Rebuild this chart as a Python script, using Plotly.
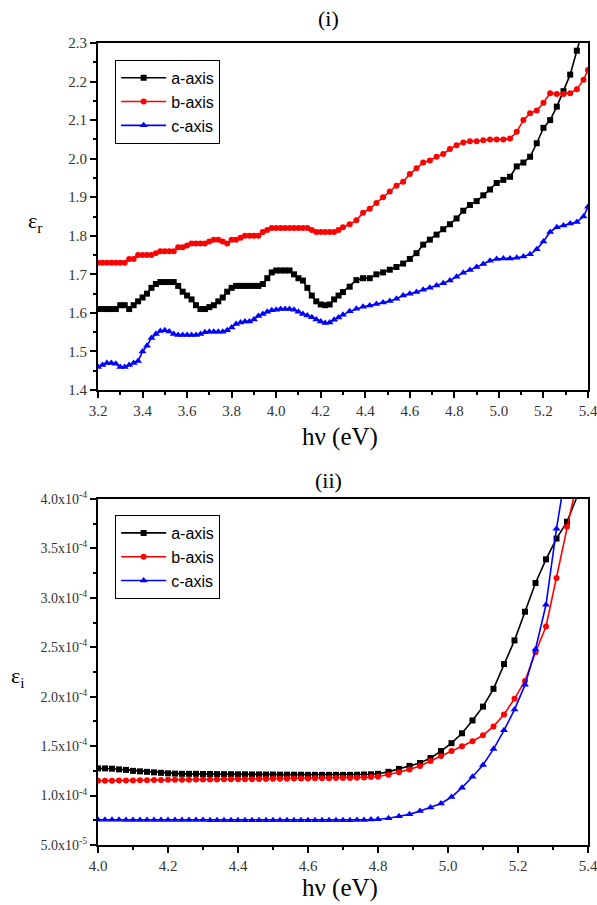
import plotly.graph_objects as go

# ---------------- Panel (i): real part ----------------
energy_top = [3.20, 3.22, 3.24, 3.26, 3.28, 3.30, 3.32, 3.34, 3.36, 3.38,
              3.40, 3.42, 3.44, 3.46, 3.48, 3.50, 3.52, 3.54, 3.56, 3.58,
              3.60, 3.62, 3.64, 3.66, 3.68, 3.70, 3.72, 3.74, 3.76, 3.78,
              3.80, 3.82, 3.84, 3.86, 3.88, 3.90, 3.92, 3.94, 3.96, 3.98,
              4.00, 4.02, 4.04, 4.06, 4.08, 4.10, 4.12, 4.14, 4.16, 4.18,
              4.20, 4.22, 4.24, 4.26, 4.28, 4.30,
              4.33, 4.36, 4.39, 4.42, 4.45, 4.48, 4.51, 4.54, 4.57, 4.60,
              4.63, 4.66, 4.69, 4.72, 4.75, 4.78, 4.81, 4.84, 4.87, 4.90,
              4.93, 4.96, 4.99, 5.02, 5.05, 5.08, 5.11, 5.14, 5.17, 5.20,
              5.23, 5.26, 5.29, 5.32, 5.35, 5.38, 5.40]

er_a = [1.61, 1.61, 1.61, 1.61, 1.61, 1.62, 1.62, 1.61, 1.62, 1.63,
        1.64, 1.65, 1.665, 1.675, 1.68, 1.68, 1.68, 1.68, 1.67, 1.655,
        1.645, 1.635, 1.62, 1.61, 1.61, 1.615, 1.62, 1.63, 1.64, 1.655,
        1.665, 1.67, 1.67, 1.67, 1.67, 1.67, 1.67, 1.675, 1.69, 1.705,
        1.71, 1.71, 1.71, 1.71, 1.70, 1.69, 1.684, 1.665, 1.645, 1.63,
        1.622, 1.62, 1.622, 1.635, 1.645, 1.654,
        1.668, 1.685, 1.69, 1.69, 1.70, 1.705, 1.712, 1.719, 1.728, 1.74,
        1.755, 1.777, 1.79, 1.803, 1.817, 1.83, 1.845, 1.865, 1.88, 1.89,
        1.905, 1.92, 1.937, 1.945, 1.953, 1.98, 1.99, 2.005, 2.04, 2.08,
        2.10, 2.135, 2.175, 2.218, 2.28, 2.34, 2.38]

er_b = [1.73, 1.73, 1.73, 1.73, 1.73, 1.73, 1.73, 1.74, 1.74, 1.75,
        1.75, 1.75, 1.75, 1.755, 1.76, 1.76, 1.76, 1.76, 1.77, 1.77,
        1.775, 1.78, 1.78, 1.78, 1.78, 1.785, 1.79, 1.79, 1.785, 1.78,
        1.79, 1.79, 1.795, 1.80, 1.80, 1.80, 1.80, 1.81, 1.815, 1.82,
        1.82, 1.82, 1.82, 1.82, 1.82, 1.82, 1.82, 1.82, 1.815, 1.81,
        1.81, 1.81, 1.81, 1.81, 1.815, 1.822,
        1.83, 1.84, 1.86, 1.87, 1.885, 1.90, 1.915, 1.93, 1.94, 1.96,
        1.975, 1.99, 1.995, 2.005, 2.012, 2.025, 2.035, 2.042, 2.045, 2.045,
        2.048, 2.05, 2.05, 2.05, 2.052, 2.07, 2.10, 2.118, 2.125, 2.145,
        2.17, 2.168, 2.168, 2.17, 2.18, 2.205, 2.23]

er_c = [1.46, 1.465, 1.47, 1.47, 1.468, 1.46, 1.46, 1.465, 1.47, 1.475,
        1.50, 1.515, 1.535, 1.545, 1.553, 1.555, 1.552, 1.545, 1.543, 1.543,
        1.543, 1.543, 1.543, 1.545, 1.55, 1.551, 1.551, 1.551, 1.551, 1.555,
        1.562, 1.571, 1.575, 1.578, 1.578, 1.583, 1.592, 1.597, 1.603, 1.607,
        1.608, 1.61, 1.61, 1.61, 1.608, 1.603, 1.597, 1.593, 1.589, 1.583,
        1.578, 1.574, 1.575, 1.582, 1.588, 1.595,
        1.604, 1.611, 1.616, 1.619, 1.623, 1.627, 1.631, 1.637, 1.645, 1.65,
        1.654, 1.66, 1.665, 1.671, 1.677, 1.684, 1.694, 1.704, 1.711, 1.719,
        1.727, 1.735, 1.74, 1.741, 1.741, 1.743, 1.746, 1.752, 1.765, 1.785,
        1.81, 1.822, 1.827, 1.832, 1.836, 1.85, 1.875]

# ---------------- Panel (ii): imaginary part (units of 1e-4) ----------------
energy_bot = [4.00, 4.02, 4.04, 4.06, 4.08, 4.10, 4.12, 4.14, 4.16, 4.18,
              4.20, 4.22, 4.24, 4.26, 4.28, 4.30, 4.32, 4.34, 4.36, 4.38,
              4.40, 4.42, 4.44, 4.46, 4.48, 4.50, 4.52, 4.54, 4.56, 4.58,
              4.60, 4.62, 4.64, 4.66, 4.68, 4.70, 4.72, 4.74, 4.76, 4.78,
              4.80,
              4.83, 4.86, 4.89, 4.92, 4.95, 4.98, 5.01, 5.04, 5.07, 5.10,
              5.13, 5.16, 5.19, 5.22, 5.25, 5.28, 5.31, 5.34, 5.37, 5.40]

ei_a = [1.275, 1.275, 1.272, 1.265, 1.26, 1.25, 1.245, 1.24, 1.235, 1.23,
        1.225, 1.222, 1.22, 1.22, 1.22, 1.218, 1.218, 1.217, 1.217, 1.216,
        1.215, 1.215, 1.214, 1.214, 1.213, 1.213, 1.212, 1.212, 1.211, 1.211,
        1.21, 1.21, 1.21, 1.21, 1.21, 1.21, 1.21, 1.211, 1.213, 1.215,
        1.22,
        1.24, 1.27, 1.30, 1.33, 1.38, 1.45, 1.53, 1.63, 1.76, 1.90,
        2.08, 2.33, 2.57, 2.86, 3.15, 3.39, 3.60, 3.77, 4.03, 4.30]

ei_b = [1.15, 1.15, 1.15, 1.152, 1.152, 1.153, 1.155, 1.155, 1.157, 1.158,
        1.16, 1.16, 1.16, 1.161, 1.162, 1.162, 1.163, 1.163, 1.164, 1.164,
        1.165, 1.165, 1.166, 1.167, 1.168, 1.169, 1.17, 1.171, 1.172, 1.173,
        1.174, 1.175, 1.176, 1.176, 1.177, 1.177, 1.178, 1.18, 1.183, 1.187,
        1.19,
        1.21, 1.235, 1.265, 1.30, 1.35, 1.40, 1.45, 1.50, 1.55, 1.61,
        1.70, 1.82, 1.98, 2.16, 2.45, 2.71, 3.20, 3.72, 4.20, 4.60]

ei_c = [0.755, 0.755, 0.755, 0.755, 0.754, 0.754, 0.754, 0.754, 0.753, 0.753,
        0.753, 0.753, 0.752, 0.752, 0.752, 0.752, 0.751, 0.751, 0.751, 0.751,
        0.75, 0.75, 0.75, 0.75, 0.75, 0.75, 0.75, 0.75, 0.75, 0.75,
        0.75, 0.75, 0.75, 0.75, 0.75, 0.75, 0.751, 0.752, 0.754, 0.757,
        0.76,
        0.77, 0.79, 0.81, 0.845, 0.88, 0.92, 0.985, 1.08, 1.19, 1.31,
        1.47, 1.66, 1.87, 2.12, 2.48, 2.93, 3.70, 4.30, 5.00, 5.80]

series_names = ["a-axis", "b-axis", "c-axis"]
series_colors = ["#000000", "#ff0000", "#0000ff"]
series_symbols = ["square", "circle", "triangle-up"]

ytick_vals_bot = [0.5, 1.0, 1.5, 2.0, 2.5, 3.0, 3.5, 4.0]
ytick_text_bot = ["5.0x10<sup>-5</sup>", "1.0x10<sup>-4</sup>", "1.5x10<sup>-4</sup>",
                  "2.0x10<sup>-4</sup>", "2.5x10<sup>-4</sup>", "3.0x10<sup>-4</sup>",
                  "3.5x10<sup>-4</sup>", "4.0x10<sup>-4</sup>"]

fig = go.Figure()

top_sets = [er_a, er_b, er_c]
bot_sets = [ei_a, ei_b, ei_c]
marker_sizes = [6, 6, 7]
for i in range(3):
    fig.add_trace(go.Scatter(
        x=energy_top, y=top_sets[i], mode="lines+markers", name=series_names[i],
        line=dict(color=series_colors[i], width=1.6),
        marker=dict(symbol=series_symbols[i], size=marker_sizes[i], color=series_colors[i]),
        xaxis="x", yaxis="y", legend="legend"))
for i in range(3):
    fig.add_trace(go.Scatter(
        x=energy_bot, y=bot_sets[i], mode="lines+markers", name=series_names[i],
        line=dict(color=series_colors[i], width=1.6),
        marker=dict(symbol=series_symbols[i], size=marker_sizes[i], color=series_colors[i]),
        xaxis="x2", yaxis="y2", legend="legend2"))

serif = "Liberation Serif, Times New Roman, serif"
sans = "Liberation Sans, Arial, sans-serif"

axis_common = dict(showgrid=False, zeroline=False, showline=True, linecolor="black",
                   linewidth=2, mirror=True, ticks="outside", ticklen=6, tickwidth=1.5,
                   tickcolor="black", automargin=False, ticklabeloverflow="allow")

fig.update_layout(
    width=597, height=905,
    margin=dict(l=98, r=9, t=43, b=60),
    paper_bgcolor="white", plot_bgcolor="white",
    xaxis=dict(domain=[0, 1], anchor="y", range=[3.2, 5.4], dtick=0.2, tick0=3.2,
               tickformat=".1f", tickfont=dict(family=serif, size=15, color="#333"),
               minor=dict(dtick=0.1, ticks="outside", ticklen=3, tickcolor="black"),
               **axis_common),
    yaxis=dict(domain=[0.5673, 1], anchor="x", range=[1.4, 2.3], dtick=0.1, tick0=1.4,
               tickformat=".1f", tickfont=dict(family=serif, size=15, color="#333"),
               minor=dict(dtick=0.05, ticks="outside", ticklen=3, tickcolor="black"),
               **axis_common),
    xaxis2=dict(domain=[0, 1], anchor="y2", range=[4.0, 5.4], dtick=0.2, tick0=4.0,
                tickformat=".1f", tickfont=dict(family=serif, size=15, color="#333"),
                minor=dict(dtick=0.1, ticks="outside", ticklen=3, tickcolor="black"),
                **axis_common),
    yaxis2=dict(domain=[0, 0.4314], anchor="x2", range=[0.5, 4.0],
                tickmode="array", tickvals=ytick_vals_bot, ticktext=ytick_text_bot,
                tickfont=dict(family=serif, size=14, color="#333"),
                minor=dict(dtick=0.25, ticks="outside", ticklen=3, tickcolor="black"),
                **axis_common),
    legend=dict(x=0.035, y=0.979, xanchor="left", yanchor="top",
                bordercolor="black", borderwidth=1, bgcolor="white",
                font=dict(family=sans, size=16, color="black"),
                tracegroupgap=0, itemwidth=45),
    legend2=dict(x=0.035, y=0.4115, xanchor="left", yanchor="top",
                 bordercolor="black", borderwidth=1, bgcolor="white",
                 font=dict(family=sans, size=16, color="black"),
                 tracegroupgap=0, itemwidth=45),
    showlegend=True,
)

annotations = [
    dict(text="(i)", x=0.47, y=1.031, font=dict(family=serif, size=22, color="black")),
    dict(text="(ii)", x=0.47, y=0.4539, font=dict(family=serif, size=22, color="black")),
    dict(text="h\u03bd (eV)", x=0.494, y=0.5087, font=dict(family=serif, size=25, color="black")),
    dict(text="h\u03bd (eV)", x=0.494, y=-0.0536, font=dict(family=serif, size=25, color="black")),
    dict(text="\u03b5<sub>r</sub>", x=-0.128, y=0.7768, font=dict(family=serif, size=22, color="black")),
    dict(text="\u03b5<sub>i</sub>", x=-0.163, y=0.2095, font=dict(family=serif, size=22, color="black")),
]
for a in annotations:
    fig.add_annotation(xref="paper", yref="paper", showarrow=False,
                       xanchor="center", yanchor="middle", **a)

fig.write_html("out.html")
